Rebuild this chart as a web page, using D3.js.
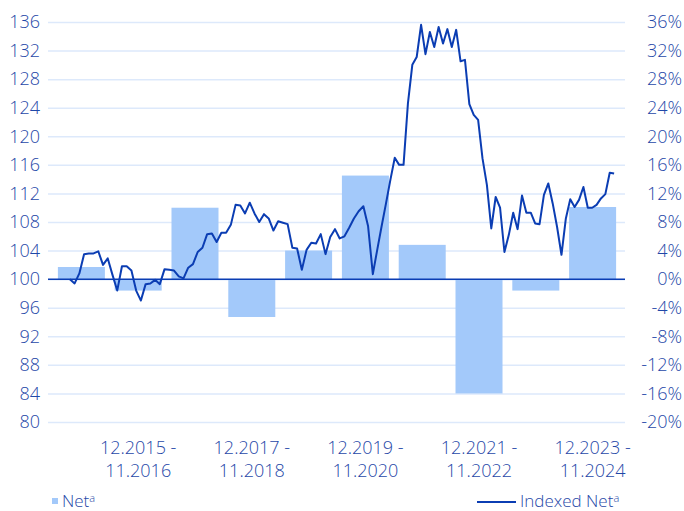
<!DOCTYPE html>
<html>
<head>
<meta charset="utf-8">
<script src="https://cdn.jsdelivr.net/npm/d3@7"></script>
<style>
  body { margin: 0; background: #fff; }
  text { font-family: "Open Sans", "Noto Sans", sans-serif; font-weight: 300; }
</style>
</head>
<body>
<div id="chart"></div>
<script>
// yearly periods (bars) and their net return in %
var periods = ["12.2014 - 11.2015", "12.2015 - 11.2016", "12.2016 - 11.2017", "12.2017 - 11.2018",
               "12.2018 - 11.2019", "12.2019 - 11.2020", "12.2020 - 11.2021", "12.2021 - 11.2022",
               "12.2022 - 11.2023", "12.2023 - 11.2024"];
var netReturns = [1.7, -1.6, 10.0, -5.3, 4.0, 14.5, 4.8, -16.0, -1.6, 10.1];

// indexed net, start = 100
var indexedNet = [
  100.0, 99.4, 100.8, 103.5, 103.6, 103.6, 103.9, 102.0, 102.9, 100.6, 98.4, 101.8,
  101.8, 101.2, 98.4, 97.0, 99.3, 99.4, 99.9, 99.3, 101.4, 101.3, 101.2,
  100.4, 100.1, 101.6, 102.1, 103.8, 104.4, 106.3, 106.4, 105.2, 106.5, 106.5, 107.6,
  110.4, 110.3, 109.2, 110.7, 109.2, 108.0, 109.1, 108.5, 106.8, 108.1, 107.9, 107.7,
  104.4, 104.3, 101.3, 104.1, 105.1, 105.0, 106.3, 103.5, 105.9, 107.0, 105.7, 106.0,
  107.2, 108.5, 109.5, 110.2, 107.4, 100.7, 104.1, 107.4, 110.6, 113.9, 117.0, 116.0, 116.0,
  124.6, 130.0, 131.1, 135.6, 131.5, 134.6, 132.5, 135.3, 133.0, 135.0, 132.5, 134.9,
  130.5, 130.7, 124.5, 123.0, 122.3, 116.9, 113.2, 107.1, 111.5,
  110.0, 103.8, 106.2, 109.3, 107.0, 111.7, 109.3, 109.3, 107.8, 107.7, 111.8, 113.4,
  110.6, 107.3, 103.4, 108.5, 111.2, 110.1, 111.1, 112.9, 110.0, 110.0, 110.4, 111.3,
  111.9, 114.9, 114.8
];
// point where the series' low in 2020 sits (used to pace the line's x scale)
var dipIndex = 64;

var leftTicks = d3.range(80, 137, 4);
var rightTicks = d3.range(-20, 37, 4);

var width = 684, height = 511;
var plotLeft = 48, plotRight = 625, plotTop = 22, plotBottom = 422;

var textColor = "#1f48a8", lineColor = "#0b3db3", barColor = "#a3c9fa", gridColor = "#dde9fb";

var svg = d3.select("#chart").append("svg")
    .attr("width", width)
    .attr("height", height);

var xBand = d3.scaleBand()
    .domain(periods)
    .range([53, 621])
    .paddingInner(0.1725)
    .paddingOuter(0.086);

var yLeft = d3.scaleLinear().domain([80, 136]).range([plotBottom, plotTop]);
var yRight = d3.scaleLinear().domain([-20, 36]).range([plotBottom, plotTop]);

var monthStep = xBand.step() / 12;
var lineStart = xBand(periods[0]) + 12;
var lineEnd = xBand(periods[periods.length - 1]) + xBand.bandwidth() - 2;
var xLine = d3.scaleLinear()
    .domain([0, dipIndex, indexedNet.length - 1])
    .range([lineStart, lineStart + dipIndex * monthStep, lineEnd]);

// gridlines
svg.append("g")
    .attr("transform", "translate(" + plotLeft + ",0)")
    .call(d3.axisLeft(yLeft).tickValues(leftTicks).tickSize(-(plotRight - plotLeft)).tickFormat(""))
    .call(function(g) { g.select(".domain").remove(); })
    .selectAll("line")
    .attr("stroke", gridColor)
    .attr("stroke-width", 1.5);

// bars
svg.selectAll(".bar").data(netReturns).enter().append("rect")
    .attr("class", "bar")
    .attr("x", function(d, i) { return xBand(periods[i]); })
    .attr("width", xBand.bandwidth())
    .attr("y", function(d) { return yRight(Math.max(0, d)); })
    .attr("height", function(d) { return Math.abs(yRight(d) - yRight(0)); })
    .attr("fill", barColor);

// zero line
svg.append("line")
    .attr("x1", plotLeft).attr("x2", plotRight)
    .attr("y1", yLeft(100)).attr("y2", yLeft(100))
    .attr("stroke", lineColor)
    .attr("stroke-width", 1.5);

// left axis
var leftAxis = svg.append("g")
    .attr("transform", "translate(" + plotLeft + ",0)")
    .call(d3.axisLeft(yLeft).tickValues(leftTicks).tickSize(0).tickPadding(8));
leftAxis.select(".domain").remove();
leftAxis.selectAll("text").attr("fill", textColor).style("font-size", "18px");

// right axis (labels right aligned)
var rightAxis = svg.append("g")
    .attr("transform", "translate(" + plotRight + ",0)")
    .call(d3.axisRight(yRight).tickValues(rightTicks).tickSize(0).tickFormat(function(d) { return d + "%"; }));
rightAxis.select(".domain").remove();
rightAxis.selectAll("text")
    .attr("fill", textColor)
    .attr("text-anchor", "end")
    .attr("x", 57)
    .style("font-size", "18px");

// x axis, every other period, two lines
var xAxis = svg.append("g")
    .attr("transform", "translate(0," + plotBottom + ")")
    .call(d3.axisBottom(xBand).tickSize(0).tickValues(periods.filter(function(d, i) { return i % 2 == 1; })));
xAxis.select(".domain").remove();
xAxis.selectAll("text")
    .attr("fill", textColor)
    .style("font-size", "18px")
    .each(function(d) {
      var parts = d.split(" - ");
      var t = d3.select(this).text(null).attr("y", 0).attr("dy", null);
      t.append("tspan").attr("x", 0).attr("y", 32).text(parts[0] + " -");
      t.append("tspan").attr("x", 0).attr("y", 55).text(parts[1]);
    });

// indexed line
var line = d3.line()
    .x(function(d, i) { return xLine(i); })
    .y(function(d) { return yLeft(d); });

svg.append("path")
    .datum(indexedNet)
    .attr("fill", "none")
    .attr("stroke", lineColor)
    .attr("stroke-width", 2)
    .attr("stroke-linejoin", "round")
    .attr("d", line);

// legend
svg.append("rect").attr("x", 52).attr("y", 498).attr("width", 6).attr("height", 6).attr("fill", barColor);
var l1 = svg.append("text").attr("x", 62).attr("y", 507).attr("fill", textColor).style("font-size", "17px");
l1.append("tspan").text("Net");
l1.append("tspan").attr("dy", -5).style("font-size", "11px").text("a");

svg.append("line").attr("x1", 477).attr("x2", 516).attr("y1", 502).attr("y2", 502)
    .attr("stroke", lineColor).attr("stroke-width", 2);
var l2 = svg.append("text").attr("x", 520).attr("y", 507).attr("fill", textColor).style("font-size", "17px");
l2.append("tspan").text("Indexed Net");
l2.append("tspan").attr("dy", -5).style("font-size", "11px").text("a");
</script>
</body>
</html>
